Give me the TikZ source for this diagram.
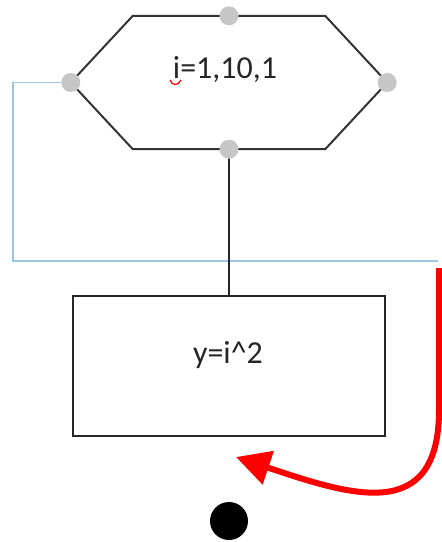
\documentclass[tikz,border=0pt]{standalone}
\usepackage{fontspec}
\setmainfont{Carlito}
\usetikzlibrary{arrows.meta,calc}
\definecolor{loopblue}{RGB}{157,195,230}

\begin{document}
\begin{tikzpicture}[
    x=1pt, y=-1pt,
    loopbox/.style={minimum width=192pt, minimum height=133pt, inner sep=0pt},
    hexline/.style={draw=black!80, line width=2pt, line join=miter},
    flow/.style={draw=black!85, line width=2.2pt, minimum width=312pt, minimum height=140pt, inner sep=0pt},
    txt/.style={font=\fontsize{32}{38}\selectfont, anchor=base, inner sep=0pt, text=black!85},
    grip/.style={circle, fill=gray!45, minimum size=19pt, inner sep=0pt},
    link/.style={line width=2pt, black!85},
    loopline/.style={line width=1.6pt, loopblue},
    arrow/.style={-{Triangle[length=34pt,width=34pt]}, line width=6pt, red}
]
\useasboundingbox (0,0) rectangle (442,542);

% Loop header (hexagon)
\node[loopbox] (loop) at (229,82.5) {};
\coordinate (loopW) at ($(loop.west)+(-62,0)$);
\coordinate (loopE) at ($(loop.east)+(62,0)$);
\coordinate (loopend) at (438,261);
\draw[loopline] (loopW) -- ++(-58,0) |- (loopend);
\draw[hexline] (loop.north west) -- (loop.north east) -- (loopE) -- (loop.south east) -- (loop.south west) -- (loopW) -- cycle;
\node[txt] (looptxt) at (225,78) {i=1,10,1};
\draw[red, line width=1.2pt] (170,80) .. controls (172,86) and (178,86) .. (181,80);

% Loop body
\node[flow] (body) at (229,366) {};
\node[txt] (bodytxt) at (228,363) {y=i\textasciicircum 2};
\draw[link] (loop.south) -- (body.north);

% Red arrow
\coordinate (redfrom) at (439,268);
\coordinate (redto) at (236,457);
\draw[arrow] (redfrom) -- (439,410) .. controls (439,525) and (350,495) .. (redto);

% Grips and end point
\node[grip] (gripN) at (loop.north) {};
\node[grip] (gripS) at (loop.south) {};
\node[grip] (gripW) at (loopW) {};
\node[grip] (gripE) at (loopE) {};
\node[circle, fill=black, minimum size=38pt, inner sep=0pt] (stop) at (229,521) {};
\end{tikzpicture}
\end{document}
